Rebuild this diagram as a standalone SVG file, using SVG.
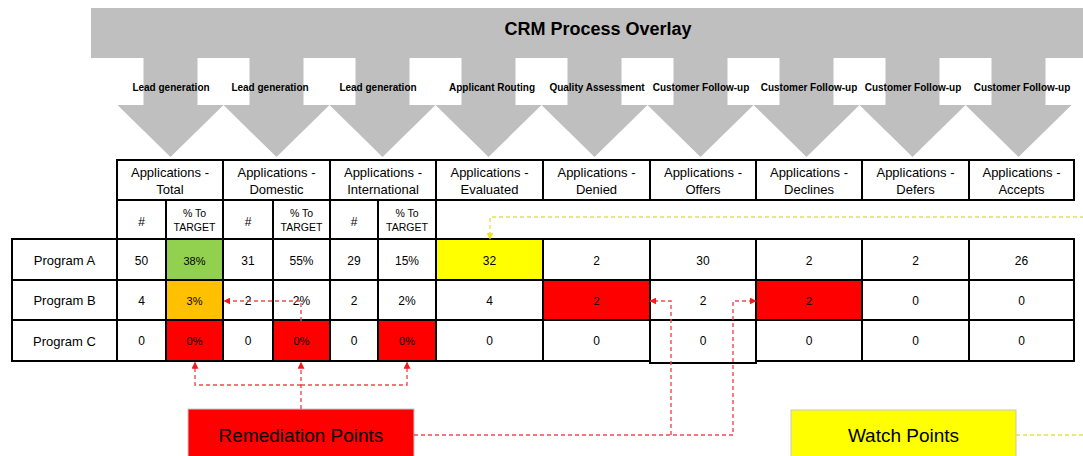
<svg xmlns="http://www.w3.org/2000/svg" width="1083" height="456" viewBox="0 0 1083 456">
<defs>
<style>
text{font-family:"Liberation Sans",Arial,sans-serif;fill:#000;text-anchor:middle}
.ban{fill:#bfbfbf}
.lbl{font-size:10px;font-weight:bold}
.title{font-size:18px;font-weight:bold}
.c{fill:#fff;stroke:#000;stroke-width:2}
.hd{font-size:13px}
.sh{font-size:12px}
.tg{font-size:10.5px}
.d{font-size:12px}
.dc{font-size:11px}
.g{fill:#92d050}
.o{fill:#ffc000}
.r{fill:#ff0000}
.y{fill:#ffff00}
.box{stroke:#c8c8c8;stroke-width:1}
.big{font-size:19px}
.rl{fill:none;stroke:#ef4a4f;stroke-width:1.4;stroke-dasharray:4 3}
.yl{fill:none;stroke:#e3e14c;stroke-width:1.4;stroke-dasharray:4 3}
</style>
<marker id="ar" viewBox="0 0 10 10" refX="9" refY="5" markerWidth="7" markerHeight="7" markerUnits="userSpaceOnUse" orient="auto"><path d="M0,0L10,5L0,10z" fill="#ee1c1c"/></marker>
<marker id="ay" viewBox="0 0 10 10" refX="9" refY="5" markerWidth="7" markerHeight="7" markerUnits="userSpaceOnUse" orient="auto"><path d="M0,0L10,5L0,10z" fill="#f2e600"/></marker>
</defs>
<rect width="1083" height="456" fill="#fff"/>

<g id="banner">
<rect class="ban" x="91" y="8" width="992" height="50"/>
<path class="ban" d="M143.5,58h54v47h26l-53,52l-53,-52h26z"/>
<path class="ban" d="M249.5,58h54v47h26l-53,52l-53,-52h26z"/>
<path class="ban" d="M355.5,58h54v47h26l-53,52l-53,-52h26z"/>
<path class="ban" d="M461.5,58h54v47h26l-53,52l-53,-52h26z"/>
<path class="ban" d="M567.5,58h54v47h26l-53,52l-53,-52h26z"/>
<path class="ban" d="M673.5,58h54v47h26l-53,52l-53,-52h26z"/>
<path class="ban" d="M779.5,58h54v47h26l-53,52l-53,-52h26z"/>
<path class="ban" d="M885.5,58h54v47h26l-53,52l-53,-52h26z"/>
<path class="ban" d="M991.5,58h54v47h26l-53,52l-53,-52h26z"/>
<text class="title" x="598" y="35">CRM Process Overlay</text>
<text class="lbl" x="171" y="90.5">Lead generation</text>
<text class="lbl" x="270" y="90.5">Lead generation</text>
<text class="lbl" x="378" y="90.5">Lead generation</text>
<text class="lbl" x="492" y="90.5">Applicant Routing</text>
<text class="lbl" x="597" y="90.5">Quality Assessment</text>
<text class="lbl" x="701" y="90.5">Customer Follow-up</text>
<text class="lbl" x="809" y="90.5">Customer Follow-up</text>
<text class="lbl" x="913" y="90.5">Customer Follow-up</text>
<text class="lbl" x="1022" y="90.5">Customer Follow-up</text>
</g>

<g id="table-header">
<rect class="c" x="117" y="160" width="106" height="40"/>
<rect class="c" x="223" y="160" width="107" height="40"/>
<rect class="c" x="330" y="160" width="106" height="40"/>
<rect class="c" x="436" y="160" width="107" height="40"/>
<rect class="c" x="543" y="160" width="107" height="40"/>
<rect class="c" x="650" y="160" width="106" height="40"/>
<rect class="c" x="756" y="160" width="106" height="40"/>
<rect class="c" x="862" y="160" width="107" height="40"/>
<rect class="c" x="969" y="160" width="105" height="40"/>
<text class="hd" x="170" y="177">Applications -</text><text class="hd" x="170" y="194">Total</text>
<text class="hd" x="276.5" y="177">Applications -</text><text class="hd" x="276.5" y="194">Domestic</text>
<text class="hd" x="383" y="177">Applications -</text><text class="hd" x="383" y="194">International</text>
<text class="hd" x="489.5" y="177">Applications -</text><text class="hd" x="489.5" y="194">Evaluated</text>
<text class="hd" x="596.5" y="177">Applications -</text><text class="hd" x="596.5" y="194">Denied</text>
<text class="hd" x="703" y="177">Applications -</text><text class="hd" x="703" y="194">Offers</text>
<text class="hd" x="809" y="177">Applications -</text><text class="hd" x="809" y="194">Declines</text>
<text class="hd" x="915.5" y="177">Applications -</text><text class="hd" x="915.5" y="194">Defers</text>
<text class="hd" x="1021.5" y="177">Applications -</text><text class="hd" x="1021.5" y="194">Accepts</text>
</g>

<g id="table-subheader">
<rect class="c" x="117" y="200" width="49" height="39"/>
<rect class="c" x="166" y="200" width="57" height="39"/>
<rect class="c" x="223" y="200" width="50" height="39"/>
<rect class="c" x="273" y="200" width="57" height="39"/>
<rect class="c" x="330" y="200" width="48" height="39"/>
<rect class="c" x="378" y="200" width="58" height="39"/>
<path d="M436,200V239" stroke="#000" stroke-width="2"/>
<path d="M436,239H1074" stroke="#9a9a9a" stroke-width="1"/>
<text class="sh" x="141.5" y="225.5">#</text>
<text class="tg" x="194.5" y="216.5">% To</text><text class="tg" x="194.5" y="231">TARGET</text>
<text class="sh" x="248" y="225.5">#</text>
<text class="tg" x="301.5" y="216.5">% To</text><text class="tg" x="301.5" y="231">TARGET</text>
<text class="sh" x="354" y="225.5">#</text>
<text class="tg" x="407" y="216.5">% To</text><text class="tg" x="407" y="231">TARGET</text>
</g>

<g id="row-a">
<rect class="c" x="12" y="239" width="105" height="41"/>
<rect class="c" x="117" y="239" width="49" height="41"/>
<rect class="c g" x="166" y="239" width="57" height="41"/>
<rect class="c" x="223" y="239" width="50" height="41"/>
<rect class="c" x="273" y="239" width="57" height="41"/>
<rect class="c" x="330" y="239" width="48" height="41"/>
<rect class="c" x="378" y="239" width="58" height="41"/>
<rect class="c y" x="436" y="239" width="107" height="41"/>
<rect class="c" x="543" y="239" width="107" height="41"/>
<rect class="c" x="650" y="239" width="106" height="41"/>
<rect class="c" x="756" y="239" width="106" height="41"/>
<rect class="c" x="862" y="239" width="107" height="41"/>
<rect class="c" x="969" y="239" width="105" height="41"/>
<text class="hd" x="64.5" y="264.5">Program A</text>
<text class="d" x="141.5" y="264.5">50</text>
<text class="dc" x="194.5" y="264.5">38%</text>
<text class="d" x="248" y="264.5">31</text>
<text class="d" x="301.5" y="264.5">55%</text>
<text class="d" x="354" y="264.5">29</text>
<text class="d" x="407" y="264.5">15%</text>
<text class="d" x="489.5" y="264.5">32</text>
<text class="d" x="596.5" y="264.5">2</text>
<text class="d" x="703" y="264.5">30</text>
<text class="d" x="809" y="264.5">2</text>
<text class="d" x="915.5" y="264.5">2</text>
<text class="d" x="1021.5" y="264.5">26</text>
</g>

<g id="row-b">
<rect class="c" x="12" y="280" width="105" height="40"/>
<rect class="c" x="117" y="280" width="49" height="40"/>
<rect class="c o" x="166" y="280" width="57" height="40"/>
<rect class="c" x="223" y="280" width="50" height="40"/>
<rect class="c" x="273" y="280" width="57" height="40"/>
<rect class="c" x="330" y="280" width="48" height="40"/>
<rect class="c" x="378" y="280" width="58" height="40"/>
<rect class="c" x="436" y="280" width="107" height="40"/>
<rect class="c r" x="543" y="280" width="107" height="40"/>
<rect class="c" x="650" y="280" width="106" height="40"/>
<rect class="c r" x="756" y="280" width="106" height="40"/>
<rect class="c" x="862" y="280" width="107" height="40"/>
<rect class="c" x="969" y="280" width="105" height="40"/>
<text class="hd" x="64.5" y="305">Program B</text>
<text class="d" x="141.5" y="305">4</text>
<text class="dc" x="194.5" y="305">3%</text>
<text class="d" x="248" y="305">2</text>
<text class="d" x="301.5" y="305">2%</text>
<text class="d" x="354" y="305">2</text>
<text class="d" x="407" y="305">2%</text>
<text class="d" x="489.5" y="305">4</text>
<text class="dc" x="596.5" y="305">2</text>
<text class="d" x="703" y="305">2</text>
<text class="dc" x="809" y="305">2</text>
<text class="d" x="915.5" y="305">0</text>
<text class="d" x="1021.5" y="305">0</text>
</g>

<g id="row-c">
<rect class="c" x="12" y="320" width="105" height="41"/>
<rect class="c" x="117" y="320" width="49" height="41"/>
<rect class="c r" x="166" y="320" width="57" height="41"/>
<rect class="c" x="223" y="320" width="50" height="41"/>
<rect class="c r" x="273" y="320" width="57" height="41"/>
<rect class="c" x="330" y="320" width="48" height="41"/>
<rect class="c r" x="378" y="320" width="58" height="41"/>
<rect class="c" x="436" y="320" width="107" height="41"/>
<rect class="c" x="543" y="320" width="107" height="41"/>
<rect class="c" x="650" y="320" width="106" height="43"/>
<rect class="c" x="756" y="320" width="106" height="41"/>
<rect class="c" x="862" y="320" width="107" height="41"/>
<rect class="c" x="969" y="320" width="105" height="41"/>
<text class="hd" x="64.5" y="345.5">Program C</text>
<text class="d" x="141.5" y="345">0</text>
<text class="dc" x="194.5" y="345">0%</text>
<text class="d" x="248" y="345">0</text>
<text class="dc" x="301.5" y="345">0%</text>
<text class="d" x="354" y="345">0</text>
<text class="dc" x="407" y="345">0%</text>
<text class="d" x="489.5" y="345">0</text>
<text class="d" x="596.5" y="345">0</text>
<text class="d" x="703" y="345">0</text>
<text class="d" x="809" y="345">0</text>
<text class="d" x="915.5" y="345">0</text>
<text class="d" x="1021.5" y="345">0</text>
</g>

<g id="remediation-points">
<rect class="r box" x="188" y="409" width="226" height="60"/>
<text class="big" x="301" y="442">Remediation Points</text>
</g>

<g id="watch-points">
<rect class="y box" x="791" y="410" width="225" height="60"/>
<text class="big" x="903.5" y="442">Watch Points</text>
</g>

<g id="connectors">
<path class="rl" d="M301,409V362.5" marker-end="url(#ar)"/>
<path class="rl" d="M301,385H195V362.5" marker-end="url(#ar)"/>
<path class="rl" d="M301,385H407V362.5" marker-end="url(#ar)"/>
<path class="rl" d="M301,321V301H224" marker-end="url(#ar)"/>
<path class="rl" d="M414,435H733V301H756" marker-end="url(#ar)"/>
<path class="rl" d="M671,435V301H650" marker-end="url(#ar)"/>
<path class="yl" d="M1016,435H1095V217H490V239" marker-end="url(#ay)"/>
</g>
</svg>
